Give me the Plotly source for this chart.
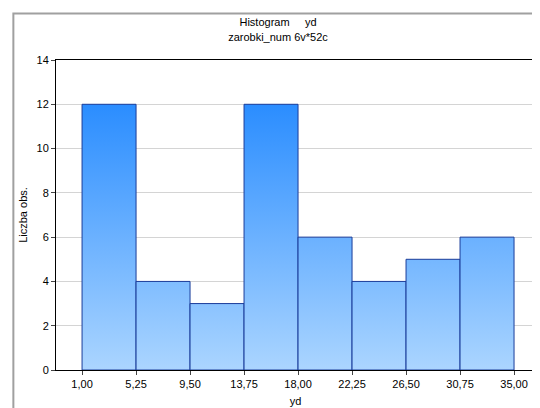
import plotly.graph_objects as go

BIN_EDGES = [1.00, 5.25, 9.50, 13.75, 18.00, 22.25, 26.50, 30.75, 35.00]
COUNTS = [12, 4, 3, 12, 6, 4, 5, 6]
TICK_LABELS = ["1,00", "5,25", "9,50", "13,75", "18,00", "22,25", "26,50", "30,75", "35,00"]

DARK = "#1581ff"
LIGHT = "#abd5ff"
EDGE = "#1a3c9a"

fig = go.Figure()
for i, c in enumerate(COUNTS):
    x0, x1 = BIN_EDGES[i], BIN_EDGES[i + 1]
    fig.add_trace(go.Scatter(
        x=[x0, x0, x1, x1, x0], y=[0, c, c, 0, 0],
        mode="lines", fill="toself",
        line=dict(color=EDGE, width=1),
        fillgradient=dict(type="vertical", start=0, stop=14,
                          colorscale=[[0, LIGHT], [1, DARK]]),
        showlegend=False, hoverinfo="skip",
    ))

fig.update_layout(
    width=540, height=408,
    paper_bgcolor="white", plot_bgcolor="white",
    font=dict(family="Liberation Sans, Arial", size=11, color="black"),
    margin=dict(l=48, r=13, t=52, b=46, autoexpand=False),
    title=dict(text="Histogram     yd<br>zarobki_num 6v*52c", x=0.5, y=0.955,
               xanchor="center", font=dict(size=11)),
    xaxis=dict(range=[-1.05, 36.65], tickvals=BIN_EDGES, ticktext=TICK_LABELS,
               showgrid=False, ticks="outside", ticklen=4, zeroline=False,
               showline=True, mirror=True, linecolor="black", automargin=False,
               title=dict(text="yd", standoff=8, font=dict(size=11))),
    yaxis=dict(range=[0, 14], dtick=2, showgrid=True, gridcolor="#d4d4d4",
               ticks="outside", ticklen=4, zeroline=False,
               showline=True, mirror=True, linecolor="black", automargin=False,
               title=dict(text="Liczba obs.", standoff=6, font=dict(size=11))),
    shapes=[dict(type="rect", xref="paper", yref="paper", x0=-0.089, x1=1.024,
                 y0=-0.148, y1=1.15, line=dict(color="#a0a0a0", width=2))],
)

fig.write_html("out.html")
